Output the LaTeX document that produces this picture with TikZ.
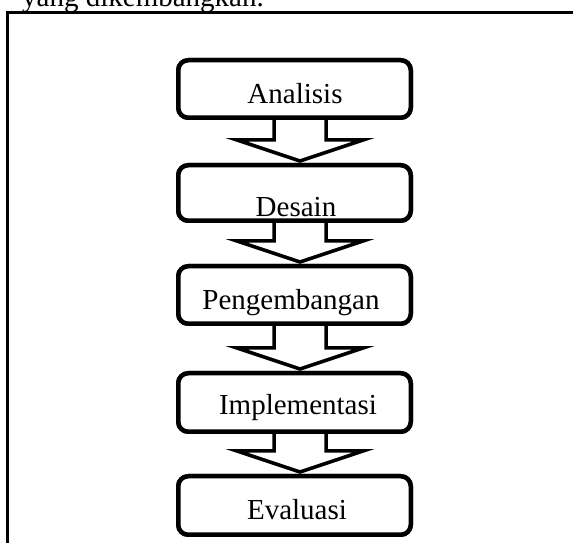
\documentclass[tikz,border=0pt]{standalone}
\usepackage{fontspec}
\setmainfont{Liberation Serif}
\usetikzlibrary{calc}
\tikzset{
  stepbox/.style={draw=black, line width=4.5pt, rounded corners=10pt, fill=white,
    minimum width=232.5pt, inner sep=0pt},
  lbl/.style={anchor=base, inner sep=0pt, font=\fontsize{29}{34}\selectfont},
  blockarr/.style={draw=black, line width=3.5pt, fill=white, line join=miter},
  frameline/.style={draw=black, line width=3pt}
}
\newcommand{\myblockarrow}[2]{%
  \draw[blockarr] let \p1=(#1.south), \p2=(#2.north) in
    (\x1+5.5pt-26pt,\y1) -- (\x1+5.5pt-26pt,\y2+23pt) -- (\x1+5.5pt-63pt,\y2+23pt)
    -- (\x1+5.5pt,\y2+2pt) -- (\x1+5.5pt+63pt,\y2+23pt) -- (\x1+5.5pt+26pt,\y2+23pt)
    -- (\x1+5.5pt+26pt,\y1);}
\begin{document}
\begin{tikzpicture}[x=1pt,y=1pt]
\useasboundingbox (0,0) rectangle (573,543);
% caption fragment
\node[anchor=base west, inner sep=0pt, font=\fontsize{29}{34}\selectfont] (cap) at (22,536.5) {yang dikembangkan.};
% frame
\coordinate (ftl) at (7.5,530);
\coordinate (fbl) at (7.5,0);
\coordinate (ftr) at (573,530);
\draw[frameline] (fbl) -- (ftl) -- (ftr);
% boxes
\node[stepbox, minimum height=57.5pt] (b1) at (294.5,454) {};
\node[stepbox, minimum height=55.5pt] (b2) at (294.5,350) {};
\node[stepbox, minimum height=57.5pt] (b3) at (294.5,248) {};
\node[stepbox, minimum height=58.5pt] (b4) at (294.5,140.5) {};
\node[stepbox, minimum height=58.5pt] (b5) at (294.5,37.5) {};
% arrows
\myblockarrow{b1}{b2}
\myblockarrow{b2}{b3}
\myblockarrow{b3}{b4}
\myblockarrow{b4}{b5}
% redraw boxes on top
\node[stepbox, minimum height=57.5pt] at (b1) {};
\node[stepbox, minimum height=55.5pt] at (b2) {};
\node[stepbox, minimum height=57.5pt] at (b3) {};
\node[stepbox, minimum height=58.5pt] at (b4) {};
\node[stepbox, minimum height=58.5pt] at (b5) {};
% labels
\node[lbl] (t1) at (295,439) {Analisis};
\node[lbl] (t2) at (296,326) {Desain};
\node[lbl] (t3) at (291,233) {Pengembangan};
\node[lbl] (t4) at (298,128) {Implementasi};
\node[lbl] (t5) at (297,23) {Evaluasi};
\end{tikzpicture}
\end{document}
